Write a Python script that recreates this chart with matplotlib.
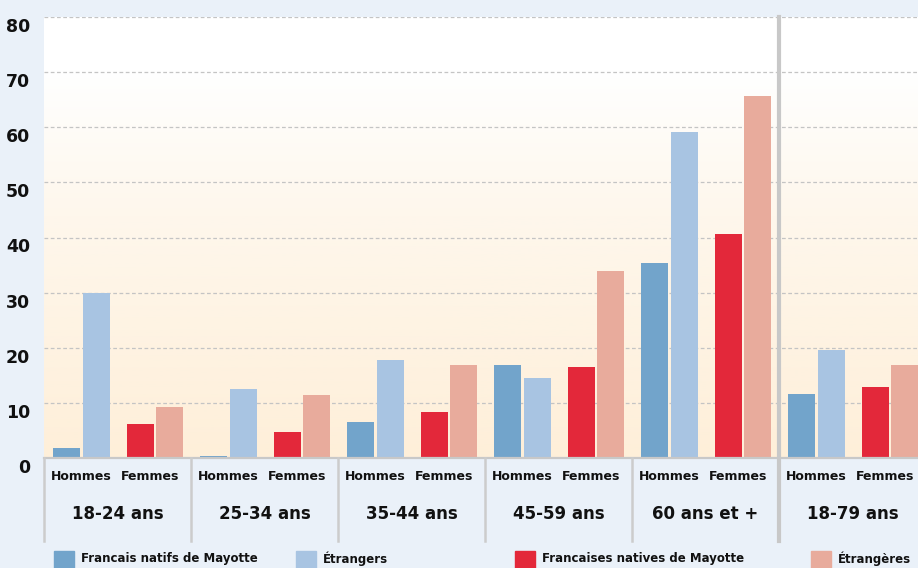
import numpy as np
import matplotlib
matplotlib.use("Agg")
import matplotlib.pyplot as plt
from matplotlib.patches import Rectangle
from matplotlib.colors import LinearSegmentedColormap
import matplotlib.transforms as mtransforms

# ── Data ─────────────────────────────────────────────────────────────────────
AGE_GROUPS = ["18-24 ans", "25-34 ans", "35-44 ans", "45-59 ans", "60 ans et +", "18-79 ans"]
SEX_LABELS = ["Hommes", "Femmes"]
SERIES = ["Francais natifs de Mayotte", "Étrangers", "Francaises natives de Mayotte", "Étrangères"]

hommes_natifs = [1.8, 0.4, 6.5, 16.9, 35.4, 11.6]
hommes_etrangers = [30.0, 12.5, 17.8, 14.5, 59.2, 19.6]
femmes_natives = [6.2, 4.7, 8.4, 16.5, 40.7, 12.9]
femmes_etrangeres = [9.3, 11.4, 16.9, 33.9, 65.7, 16.9]

Y_TICKS = [0, 10, 20, 30, 40, 50, 60, 70, 80]

COLORS = ["#72a4cb", "#a8c4e2", "#e3283a", "#e8ab9c"]
BG = "#eaf1f9"

FONT = dict(family="DejaVu Sans", fontweight="bold", color="#111111")

# ── Figure ───────────────────────────────────────────────────────────────────
W, H = 918, 568
fig = plt.figure(figsize=(W / 100, H / 100), dpi=100, facecolor=BG)
ax = fig.add_axes([44 / W, (H - 458) / H, (W - 44) / W, 441 / H])

xmax = 874 / 147
ax.set_xlim(0, xmax)
ax.set_ylim(0, 80)

# gradient background: white on top, cream at the bottom
cmap = LinearSegmentedColormap.from_list(
    "cream", [(0, "#feefd9"), (0.55, "#fef7ec"), (0.88, "#ffffff"), (1, "#ffffff")])
grad = np.linspace(0, 1, 256).reshape(-1, 1)
ax.imshow(grad, extent=(0, xmax, 0, 80), origin="lower", aspect="auto",
          cmap=cmap, zorder=0)

offsets = [0.153, 0.357, 0.656, 0.854]
width = 0.184
series_vals = [hommes_natifs, hommes_etrangers, femmes_natives, femmes_etrangeres]
x = np.arange(len(AGE_GROUPS))
for off, vals, col in zip(offsets, series_vals, COLORS):
    ax.bar(x + off, vals, width=width, color=col, zorder=3, linewidth=0)

for yv in Y_TICKS[1:]:
    ax.axhline(yv, color="#c4c4c4", linewidth=0.9, linestyle=(0, (3, 2)), zorder=2)
ax.axhline(0, color="#c8c8c8", linewidth=1.6, zorder=4, clip_on=False)

for s in ax.spines.values():
    s.set_visible(False)
ax.set_xticks([])
ax.set_yticks(Y_TICKS)
ax.tick_params(axis="y", length=0, pad=10)
ax.set_yticklabels([str(v) for v in Y_TICKS], fontsize=12.5, **FONT)
shift = mtransforms.ScaledTranslation(0, -8 / 100, fig.dpi_scale_trans)
for lab in ax.get_yticklabels():
    lab.set_transform(lab.get_transform() + shift)

# category labels below the axis
tr = mtransforms.blended_transform_factory(ax.transData, ax.transAxes)
for i, grp in enumerate(AGE_GROUPS):
    ax.text(i + 0.255, -0.041, SEX_LABELS[0], transform=tr, ha="center", va="center",
            fontsize=9, clip_on=False, **FONT)
    ax.text(i + 0.72, -0.041, SEX_LABELS[1], transform=tr, ha="center", va="center",
            fontsize=9, clip_on=False, **FONT)
    ax.text(i + 0.5, -0.127, grp, transform=tr, ha="center", va="center",
            fontsize=12, clip_on=False, **FONT)

# separators of the label table
for i in range(len(AGE_GROUPS)):
    if i == 5:
        continue
    ax.plot([i, i], [0, -0.188], transform=tr, color="#cccccc", linewidth=1.8,
            clip_on=False, zorder=4)
ax.plot([5, 5], [1, -0.188], transform=tr, color="#c8c8c8", linewidth=3,
        clip_on=False, zorder=5)

# legend row
legend_x = [54, 296, 515, 811]
for lx, col, name in zip(legend_x, COLORS, SERIES):
    fig.patches.append(Rectangle((lx / W, 0), 20 / W, (H - 551) / H, color=col,
                                 transform=fig.transFigure, figure=fig))
    fig.text((lx + 27) / W, (H - 552) / H, name, ha="left", va="top",
             fontsize=8.5, **FONT)

fig.savefig("out.png", dpi=100, facecolor=BG)
